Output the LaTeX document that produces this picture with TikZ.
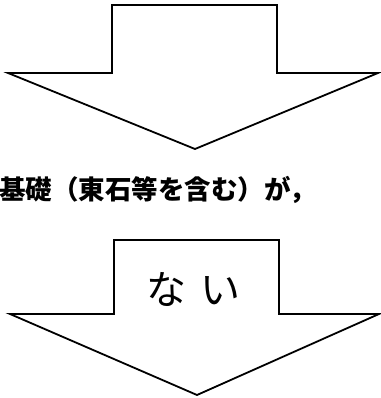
\documentclass[tikz,border=0pt]{standalone}
\usepackage{fontspec}
\newfontfamily\cjk{Noto Sans CJK JP}
\usepackage{tikz}
\usetikzlibrary{calc}
\tikzset{
  bigarrow/.style={draw=black, line width=1.8pt, line join=miter, fill=white},
  caption/.style={font=\cjk\bfseries\fontsize{26.5}{30}\selectfont, inner sep=0pt, anchor=west},
  inlabel/.style={font=\cjk\fontsize{40}{44}\selectfont, inner sep=0pt}
}
\begin{document}
\begin{tikzpicture}[x=1pt, y=-1pt]
  \useasboundingbox (0,0) rectangle (380,398);
  % Upper arrow
  \coordinate (T1) at (195,149);
  \draw[bigarrow] (112,5) -- (277,5) -- (277,73) -- (378,73) -- (T1)
    -- (8,73) -- (112,73) -- cycle;

  % Text between the arrows
  \node[caption] (cond) at (-1,190) {基礎（東石等を含む）が，};

  % Lower arrow
  \coordinate (T2) at (197,395);
  \draw[bigarrow] (114,240) -- (279,240) -- (279,314) -- (379,314) -- (T2)
    -- (10,314) -- (114,314) -- cycle;
  \node[inlabel] (nai) at (193,289) {な\hspace{14pt}い};
\end{tikzpicture}
\end{document}
